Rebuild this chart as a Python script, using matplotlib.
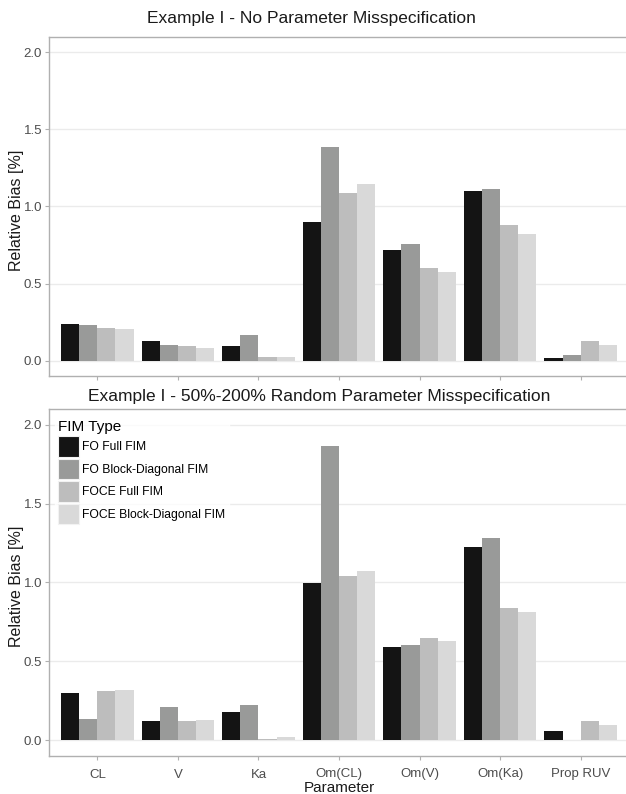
import numpy as np
import matplotlib.pyplot as plt
from matplotlib.patches import Patch

plt.rcParams['font.family'] = ['Liberation Sans', 'DejaVu Sans']

# categories and FIM types
params = ['CL', 'V', 'Ka', 'Om(CL)', 'Om(V)', 'Om(Ka)', 'Prop RUV']
fim_types = ['FO Full FIM', 'FO Block-Diagonal FIM', 'FOCE Full FIM', 'FOCE Block-Diagonal FIM']
colors = ['#141414', '#999a99', '#bdbdbd', '#d9d9d9']

# relative bias, example I - no misspecification
no_mis_fo_full = [0.24, 0.125, 0.094, 0.90, 0.716, 1.10, 0.017]
no_mis_fo_block = [0.228, 0.10, 0.164, 1.383, 0.755, 1.113, 0.036]
no_mis_foce_full = [0.209, 0.094, 0.023, 1.088, 0.60, 0.877, 0.126]
no_mis_foce_block = [0.202, 0.081, 0.023, 1.146, 0.575, 0.824, 0.10]

# relative bias, example I - 50%-200% random misspecification
rand_mis_fo_full = [0.30, 0.121, 0.179, 0.996, 0.594, 1.225, 0.057]
rand_mis_fo_block = [0.134, 0.21, 0.223, 1.864, 0.606, 1.283, 0.0]
rand_mis_foce_full = [0.313, 0.121, 0.006, 1.04, 0.645, 0.836, 0.121]
rand_mis_foce_block = [0.319, 0.128, 0.019, 1.072, 0.632, 0.81, 0.096]

W, H = 626, 794
fig = plt.figure(figsize=(W / 100, H / 100), dpi=100)

left = 49 / W
width = 580 / W
ax1 = fig.add_axes([left, 1 - 376 / H, width, 339 / H])
ax2 = fig.add_axes([left, 1 - 756 / H, width, 347 / H])

tick_col = '#4d4d4d'
frame_col = '#b0b0b0'


def draw_panel(ax, series, show_labels):
    x = np.arange(len(params))
    bw = 0.225
    for i, vals in enumerate(series):
        ax.bar(x + (i - 1.5) * bw, vals, width=bw, color=colors[i],
               label=fim_types[i], zorder=2, linewidth=0)
    ax.set_xlim(-0.6, len(params) - 0.4)
    ax.set_ylim(-0.1, 2.1)
    ax.set_yticks([0.0, 0.5, 1.0, 1.5, 2.0])
    ax.set_yticklabels(['0.0', '0.5', '1.0', '1.5', '2.0'])
    ax.set_xticks(x)
    if show_labels:
        ax.set_xticklabels(params)
    else:
        ax.set_xticklabels([])
    ax.grid(axis='y', color='#ebebeb', linewidth=1.0, zorder=0)
    ax.set_axisbelow(True)
    for s in ax.spines.values():
        s.set_color(frame_col)
        s.set_linewidth(1.0)
    ax.tick_params(axis='y', colors=frame_col, labelcolor=tick_col,
                   labelsize=9.5, length=3, width=0.8, pad=2)
    ax.tick_params(axis='x', colors=frame_col, labelcolor=tick_col,
                   labelsize=9.5, length=3, width=0.8, pad=6)
    ax.set_ylabel('Relative Bias [%]', fontsize=11.5, color='#1a1a1a')
    ax.yaxis.set_label_coords(-0.043, 0.49)


draw_panel(ax1, [no_mis_fo_full, no_mis_fo_block, no_mis_foce_full, no_mis_foce_block], False)
draw_panel(ax2, [rand_mis_fo_full, rand_mis_fo_block, rand_mis_foce_full, rand_mis_foce_block], True)
ax2.set_xlabel('Parameter', fontsize=11, color='#1a1a1a', labelpad=0)

fig.text(311 / W, 1 - 18 / H, 'Example I - No Parameter Misspecification',
         ha='center', va='center', fontsize=12.5, color='#1a1a1a')
fig.text(319 / W, 1 - 396 / H, 'Example I - 50%-200% Random Parameter Misspecification',
         ha='center', va='center', fontsize=12.5, color='#1a1a1a')

handles = [Patch(facecolor=c, edgecolor='#f2f2f2', linewidth=0.8) for c in colors]
leg = ax2.legend(handles, fim_types, title='FIM Type', loc='upper left',
                 bbox_to_anchor=(0.0034, 0.9885), frameon=True, fancybox=False,
                 fontsize=8.7, title_fontsize=11, handlelength=1.7,
                 handleheight=2.23, labelspacing=0.165, handletextpad=0.3,
                 borderpad=0.3, borderaxespad=0.3)
leg.get_frame().set_edgecolor('white')
leg.get_frame().set_facecolor('white')
leg._legend_box.align = 'left'

fig.savefig('out.png', dpi=100)
